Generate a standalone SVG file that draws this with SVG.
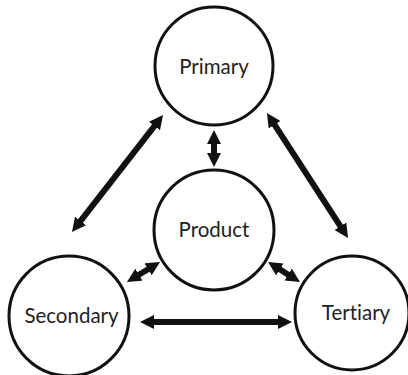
<svg xmlns="http://www.w3.org/2000/svg" width="408" height="375" viewBox="0 0 408 375">
<style>
.node circle{fill:#fff;stroke:#111;stroke-width:3}
.node text{font-family:Lato,"Open Sans","Liberation Sans",sans-serif;font-size:20.5px;fill:#222;text-anchor:middle;font-variant-ligatures:none;font-feature-settings:"liga" 0,"dlig" 0}
.conn line{stroke:#111;stroke-width:6;marker-start:url(#ah);marker-end:url(#ah)}
</style>
<defs>
<marker id="ah" markerUnits="userSpaceOnUse" markerWidth="14" markerHeight="14" viewBox="0 0 14 14" refX="4" refY="7" orient="auto-start-reverse">
<path d="M0,0 L14,7 L0,14 z" fill="#111"/>
</marker>
</defs>
<rect width="408" height="375" fill="#fff"/>
<g id="primary" class="node"><circle cx="214" cy="66" r="59"/><text x="214" y="74">Primary</text></g>
<g id="product" class="node"><circle cx="214" cy="230" r="60"/><text x="214" y="237">Product</text></g>
<g id="secondary" class="node"><circle cx="69" cy="316" r="60"/><text x="71.5" y="322.5">Secondary</text></g>
<g id="tertiary" class="node"><circle cx="352" cy="313" r="57"/><text x="356" y="320">Tertiary</text></g>
<g id="connectors" class="conn">
<line x1="156.9" y1="122.9" x2="78.1" y2="224.1"/>
<line x1="272.4" y1="121.4" x2="342.6" y2="229.6"/>
<line x1="214" y1="140" x2="214" y2="157"/>
<line x1="151.5" y1="267.2" x2="135.5" y2="276.8"/>
<line x1="276.5" y1="267.3" x2="291.5" y2="276.7"/>
<line x1="150" y1="322" x2="282" y2="322"/>
</g>
</svg>
